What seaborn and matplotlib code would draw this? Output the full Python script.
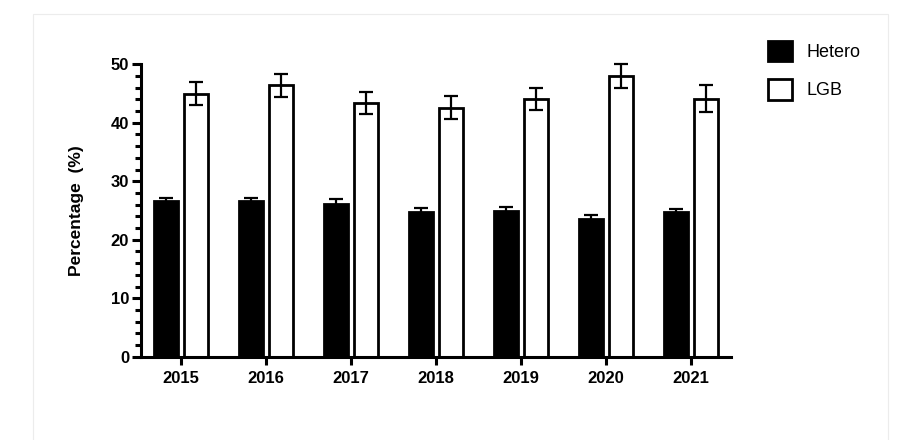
import pandas as pd
import seaborn as sns
import matplotlib.pyplot as plt
from matplotlib.patches import Rectangle
from matplotlib.ticker import MultipleLocator

sns.set_theme(style="white")
plt.rcParams["font.family"] = ["Liberation Sans", "DejaVu Sans"]
plt.rcParams.update({"text.color": "black", "axes.labelcolor": "black",
                     "xtick.color": "black", "ytick.color": "black"})

# Values
years = ["2015", "2016", "2017", "2018", "2019", "2020", "2021"]
hetero = [26.6, 26.6, 26.2, 24.8, 25.0, 23.5, 24.7]
hetero_err = [0.6, 0.5, 0.7, 0.6, 0.6, 0.8, 0.5]
lgb = [45.0, 46.4, 43.4, 42.6, 44.1, 48.0, 44.1]
lgb_err = [2.0, 2.0, 1.9, 2.0, 1.9, 2.0, 2.3]

df = pd.DataFrame({
    "year": years * 2,
    "value": hetero + lgb,
    "group": ["Hetero"] * len(years) + ["LGB"] * len(years),
})

fig = plt.figure(figsize=(9.04, 4.4), dpi=100)
ax = fig.add_axes([0.156, 0.1893, 0.6527, 0.6645])

sns.barplot(
    data=df, x="year", y="value", hue="group",
    palette={"Hetero": "black", "LGB": "white"},
    edgecolor="black", linewidth=2,
    width=0.72, gap=0.22, errorbar=None, ax=ax,
)

# error bars on top of each bar, positioned from the drawn patches
for container, errs in zip(ax.containers, [hetero_err, lgb_err]):
    xs = [p.get_x() + p.get_width() / 2 for p in container]
    hs = [p.get_height() for p in container]
    ax.errorbar(xs, hs, yerr=errs, fmt="none", ecolor="black",
                elinewidth=1.6, capsize=5, capthick=1.6, clip_on=False, zorder=5)

ax.set_xlim(-0.47, 6.47)
ax.set_ylim(0, 50)
ax.yaxis.set_major_locator(MultipleLocator(10))
ax.yaxis.set_minor_locator(MultipleLocator(2))

sns.despine(ax=ax)
for side in ["left", "bottom"]:
    ax.spines[side].set_linewidth(2.2)
    ax.spines[side].set_color("black")

ax.tick_params(axis="y", which="major", direction="out", length=6.5, width=2.2,
               pad=2, labelsize=12, left=True)
ax.tick_params(axis="y", which="minor", direction="out", length=4, width=2.2, left=True)
ax.tick_params(axis="x", direction="out", length=6, width=2.2, pad=4,
               labelsize=12, bottom=True)
for lbl in ax.get_xticklabels() + ax.get_yticklabels():
    lbl.set_fontweight("bold")

ax.set_xlabel("")
ax.set_ylabel("Percentage  (%)", fontsize=12.5, fontweight="bold")
ax.yaxis.set_label_coords(-0.097, 0.5)

handles, labels = ax.get_legend_handles_labels()
ax.get_legend().remove()
fig.legend(handles, labels, loc="upper left",
           bbox_to_anchor=(768 / 904, 1 - 41 / 440), bbox_transform=fig.transFigure,
           frameon=False, fontsize=13, handlelength=1.35, handleheight=1.35,
           handletextpad=0.8, labelspacing=1.0, borderpad=0, borderaxespad=0)

# faint frame around the panel
fig.patches.append(Rectangle((33 / 904, -0.1), (888 - 33) / 904, (440 - 14) / 440 + 0.1,
                             transform=fig.transFigure, fill=False,
                             edgecolor="#ececec", linewidth=0.8))

fig.savefig("out.png", dpi=100)
